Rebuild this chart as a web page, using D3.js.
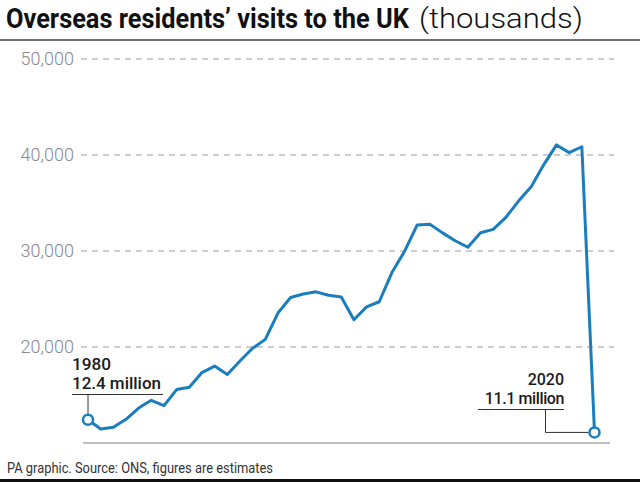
<!DOCTYPE html>
<html><head><meta charset="utf-8">
<script src="https://cdn.jsdelivr.net/npm/d3@7"></script>
<style>html,body{margin:0;padding:0;background:#fff;}svg{display:block;}</style>
</head><body>
<script>
const years = d3.range(1980, 2021);
const visits = [12421, 11452, 11636, 12464, 13644, 14449, 13897, 15566, 15799, 17338,
  18013, 17125, 18535, 19863, 20794, 23537, 25163, 25515, 25745, 25394,
  25209, 22835, 24180, 24715, 27755, 29970, 32713, 32778, 31888, 31070,
  30390, 31900, 32250, 33500, 35200, 36700, 39000, 41050, 40250, 40860, 11101];
const yTicks = [20000, 30000, 40000, 50000];
const titleBold = "Overseas residents\u2019 visits to the UK";
const titleLight = "(thousands)";
const source = "PA graphic. Source: ONS, figures are estimates";
const startLabel = ["1980", "12.4 million"];
const endLabel = ["2020", "11.1 million"];

const W = 640, H = 482;
const svg = d3.select("body").append("svg").attr("width", W).attr("height", H);
const x = d3.scaleLinear().domain([1980, 2020]).range([88, 594.5]);
const y = d3.scaleLinear().domain([10000, 50000]).range([443, 59]);
const font = "Roboto, 'Liberation Sans', sans-serif";

// title: each part squeezed horizontally to the reference width
function squeezed(txt, x0, width, weight) {
  const g = svg.append("g");
  const t = g.append("text").attr("x", 0).attr("y", 0).attr("font-family", font)
    .attr("font-size", 27).attr("font-weight", weight).attr("fill", "#111").text(txt);
  const w = t.node().getComputedTextLength();
  g.attr("transform", `translate(${x0},28) scale(${width / w},1)`);
}
squeezed(titleBold, 6, 403, 700);
squeezed(titleLight, 419, 164, 300);
svg.append("line").attr("x1", 0).attr("x2", W).attr("y1", 40).attr("y2", 40)
  .attr("stroke", "#444").attr("stroke-width", 1.5);

// grid
const grid = svg.append("g");
grid.selectAll("line").data(yTicks).join("line")
  .attr("x1", 81).attr("x2", 614).attr("y1", d => y(d)).attr("y2", d => y(d))
  .attr("stroke", "#9a9a9a").attr("stroke-width", 1).attr("stroke-dasharray", "6,5");
grid.selectAll("text").data(yTicks).join("text")
  .attr("x", 74).attr("y", d => y(d)).attr("dy", "0.35em").attr("text-anchor", "end")
  .attr("font-family", font).attr("font-size", 18).attr("font-weight", 300).attr("fill", "#8a8a8a")
  .text(d => d3.format(",")(d));

// baseline
svg.append("line").attr("x1", 83).attr("x2", 610).attr("y1", y(10000)).attr("y2", y(10000))
  .attr("stroke", "#aaa").attr("stroke-width", 1.5);

// annotation 1980
const ann = svg.append("g").attr("font-family", font).attr("font-size", 16)
  .attr("font-weight", 500).attr("fill", "#1a1a1a");
ann.append("text").attr("x", 72).attr("y", 370).attr("textLength", 39).attr("lengthAdjust", "spacingAndGlyphs").text(startLabel[0]);
ann.append("text").attr("x", 72).attr("y", 389).attr("textLength", 89).attr("lengthAdjust", "spacingAndGlyphs").text(startLabel[1]);
svg.append("path").attr("d", `M72,394.5H163M${x(1980)},394.5V${y(visits[0]) - 6}`)
  .attr("stroke", "#333").attr("stroke-width", 1).attr("fill", "none");

// annotation 2020
ann.append("text").attr("x", 564).attr("y", 385).attr("text-anchor", "end").text(endLabel[0]);
ann.append("text").attr("x", 564).attr("y", 404).attr("text-anchor", "end").attr("letter-spacing", -0.4).text(endLabel[1]);
svg.append("path").attr("d", `M478,409.5H564M545.5,409.5V${y(visits[40])}H${x(2020) - 6}`)
  .attr("stroke", "#333").attr("stroke-width", 1).attr("fill", "none");

// line
const blue = "#1a7dbd";
svg.append("path").datum(visits)
  .attr("d", d3.line().x((d, i) => x(years[i])).y(d => y(d)))
  .attr("fill", "none").attr("stroke", blue).attr("stroke-width", 3).attr("stroke-linejoin", "round");
svg.selectAll("circle.end").data([0, 40]).join("circle")
  .attr("cx", i => x(years[i])).attr("cy", i => y(visits[i])).attr("r", 5)
  .attr("fill", "#fff").attr("stroke", blue).attr("stroke-width", 2.5);

// footer
svg.append("text").attr("x", 7).attr("y", 473).attr("font-family", font)
  .attr("font-size", 14).attr("font-weight", 400).attr("fill", "#333")
  .attr("textLength", 266).attr("lengthAdjust", "spacingAndGlyphs").text(source);
svg.append("rect").attr("x", 0).attr("y", 479).attr("width", W).attr("height", 3).attr("fill", "#111");
</script>
</body></html>
